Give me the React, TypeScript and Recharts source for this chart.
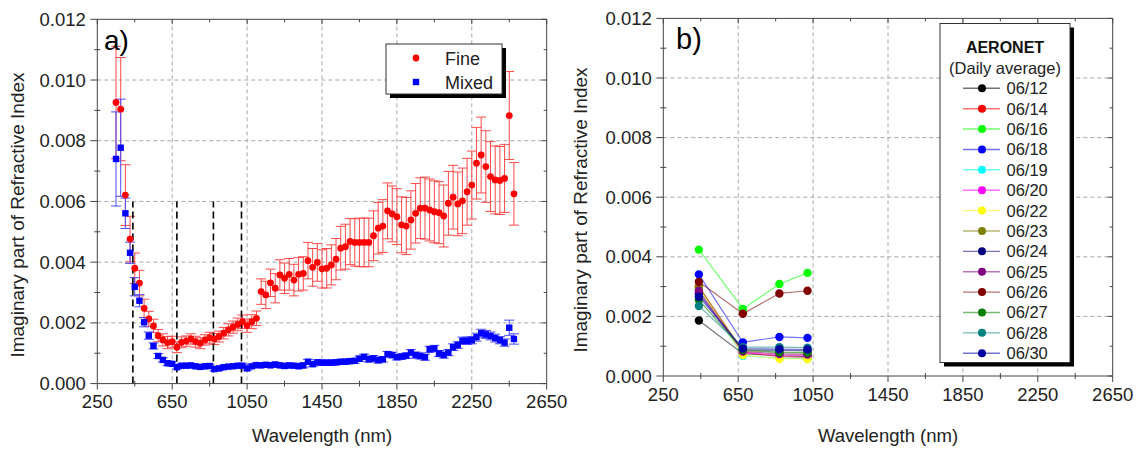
import React from 'react';
import { ScatterChart, Scatter, XAxis, YAxis, CartesianGrid, ErrorBar, ReferenceLine } from 'recharts';

// ---------- data ----------
const wavelengths = [
  350, 375, 400, 425, 450, 475, 500, 525, 550, 575,
  600, 625, 650, 675, 700, 725, 750, 775, 800, 825,
  850, 875, 900, 925, 950, 975, 1000, 1025, 1050, 1075,
  1100, 1125, 1150, 1175, 1200, 1225, 1250, 1275, 1300, 1325,
  1350, 1375, 1400, 1425, 1450, 1475, 1500, 1525, 1550, 1575,
  1600, 1625, 1650, 1675, 1700, 1725, 1750, 1775, 1800, 1825,
  1850, 1875, 1900, 1925, 1950, 1975, 2000, 2025, 2050, 2075,
  2100, 2125, 2150, 2175, 2200, 2225, 2250, 2275, 2300, 2325,
  2350, 2375, 2400, 2425, 2450, 2475,
];

const fineValues = [
  0.00926, 0.00904, 0.00621, 0.00476, 0.00380, 0.00331, 0.00248, 0.00213, 0.00190, 0.00158,
  0.00144, 0.00135, 0.00138, 0.00120, 0.00136, 0.00140, 0.00147, 0.00138, 0.00133, 0.00144,
  0.00151, 0.00147, 0.00155, 0.00166, 0.00177, 0.00186, 0.00195, 0.00204, 0.00191, 0.00204,
  0.00215, 0.00303, 0.00292, 0.00332, 0.00314, 0.00358, 0.00347, 0.00360, 0.00341, 0.00360,
  0.00363, 0.00405, 0.00383, 0.00399, 0.00378, 0.00380, 0.00391, 0.00410, 0.00446, 0.00451,
  0.00468, 0.00465, 0.00465, 0.00465, 0.00465, 0.00487, 0.00512, 0.00519, 0.00569, 0.00559,
  0.00550, 0.00523, 0.00519, 0.00539, 0.00561, 0.00578, 0.00578, 0.00572, 0.00566, 0.00563,
  0.00552, 0.00594, 0.00614, 0.00592, 0.00602, 0.00632, 0.00654, 0.00726, 0.00753, 0.00715,
  0.00682, 0.00671, 0.00669, 0.00676, 0.00883, 0.00625,
];

const fineErrors = [
  0.00185, 0.00170, 0.00100, 0.00075, 0.00050, 0.00042, 0.00030, 0.00025, 0.00022, 0.00020,
  0.00020, 0.00020, 0.00018, 0.00018, 0.00018, 0.00017, 0.00017, 0.00018, 0.00018, 0.00017,
  0.00018, 0.00018, 0.00018, 0.00019, 0.00020, 0.00020, 0.00021, 0.00022, 0.00022, 0.00023,
  0.00024, 0.00042, 0.00045, 0.00045, 0.00048, 0.00050, 0.00050, 0.00052, 0.00052, 0.00055,
  0.00055, 0.00060, 0.00062, 0.00062, 0.00063, 0.00065, 0.00066, 0.00068, 0.00072, 0.00074,
  0.00076, 0.00078, 0.00080, 0.00080, 0.00080, 0.00082, 0.00085, 0.00087, 0.00092, 0.00092,
  0.00092, 0.00092, 0.00094, 0.00096, 0.00098, 0.00100, 0.00102, 0.00102, 0.00102, 0.00102,
  0.00102, 0.00105, 0.00105, 0.00105, 0.00108, 0.00110, 0.00112, 0.00118, 0.00125, 0.00118,
  0.00115, 0.00112, 0.00112, 0.00112, 0.00145, 0.00103,
];

const mixedValues = [
  0.00740, 0.00777, 0.00561, 0.00431, 0.00319, 0.00273, 0.00202, 0.00158, 0.00124, 0.00091,
  0.00078, 0.00067, 0.00065, 0.00054, 0.00059, 0.00059, 0.00060, 0.00057, 0.00055, 0.00057,
  0.00058, 0.00048, 0.00050, 0.00054, 0.00056, 0.00057, 0.00059, 0.00059, 0.00050, 0.00057,
  0.00061, 0.00060, 0.00062, 0.00060, 0.00063, 0.00060, 0.00058, 0.00060, 0.00059, 0.00057,
  0.00060, 0.00072, 0.00064, 0.00070, 0.00069, 0.00069, 0.00069, 0.00070, 0.00072, 0.00072,
  0.00074, 0.00075, 0.00082, 0.00088, 0.00080, 0.00083, 0.00077, 0.00080, 0.00097, 0.00094,
  0.00087, 0.00089, 0.00092, 0.00102, 0.00094, 0.00091, 0.00087, 0.00113, 0.00116, 0.00099,
  0.00094, 0.00102, 0.00120, 0.00127, 0.00141, 0.00141, 0.00143, 0.00153, 0.00166, 0.00162,
  0.00157, 0.00150, 0.00143, 0.00135, 0.00184, 0.00147,
];

const mixedErrors = [
  0.00155, 0.00160, 0.00050, 0.00035, 0.00030, 0.00020, 0.00015, 0.00012, 0.00010, 0.00008,
  0.00007, 0.00007, 0.00007, 0.00006, 0.00006, 0.00006, 0.00006, 0.00006, 0.00006, 0.00006,
  0.00006, 0.00006, 0.00006, 0.00006, 0.00006, 0.00006, 0.00006, 0.00006, 0.00006, 0.00006,
  0.00007, 0.00007, 0.00007, 0.00007, 0.00007, 0.00007, 0.00007, 0.00007, 0.00007, 0.00007,
  0.00008, 0.00008, 0.00008, 0.00008, 0.00008, 0.00008, 0.00008, 0.00008, 0.00008, 0.00008,
  0.00008, 0.00008, 0.00009, 0.00009, 0.00009, 0.00009, 0.00009, 0.00009, 0.00009, 0.00009,
  0.00009, 0.00009, 0.00009, 0.00010, 0.00010, 0.00010, 0.00010, 0.00010, 0.00010, 0.00010,
  0.00010, 0.00010, 0.00011, 0.00011, 0.00012, 0.00012, 0.00012, 0.00013, 0.00013, 0.00013,
  0.00013, 0.00013, 0.00012, 0.00012, 0.00025, 0.00017,
];

const guideWavelengths = [440, 675, 870, 1020];
const guideTop = 0.006;

const aeronetWavelengths = [440, 675, 870, 1020];
const aeronetDates = ['06/12', '06/14', '06/16', '06/18', '06/19', '06/20', '06/22', '06/23', '06/24', '06/25', '06/26', '06/27', '06/28', '06/30'];
const aeronetColors = ['#000000', '#ff0000', '#00ff00', '#0000ff', '#00ffff', '#ff00ff', '#ffff00', '#808000', '#000080', '#800080', '#800000', '#008000', '#008080', '#0000a0'];
const aeronetValues = [
  [0.00186, 0.00075, 0.00068, 0.00065],
  [0.00300, 0.00080, 0.00065, 0.00062],
  [0.00424, 0.00225, 0.00309, 0.00346],
  [0.00341, 0.00113, 0.00131, 0.00128],
  [0.00290, 0.00068, 0.00060, 0.00058],
  [0.00280, 0.00078, 0.00070, 0.00068],
  [0.00295, 0.00070, 0.00058, 0.00057],
  [0.00300, 0.00085, 0.00078, 0.00076],
  [0.00275, 0.00088, 0.00086, 0.00085],
  [0.00286, 0.00082, 0.00074, 0.00072],
  [0.00316, 0.00209, 0.00277, 0.00286],
  [0.00255, 0.00088, 0.00080, 0.00079],
  [0.00235, 0.00097, 0.00097, 0.00095],
  [0.00266, 0.00092, 0.00090, 0.00089],
];

const xTicks = [250, 450, 650, 850, 1050, 1250, 1450, 1650, 1850, 2050, 2250, 2450, 2650];
const xMajorTicks = [250, 650, 1050, 1450, 1850, 2250, 2650];
const xGridValues = [650, 1050, 1450, 1850, 2250];
const yTicks = [0, 0.001, 0.002, 0.003, 0.004, 0.005, 0.006, 0.007, 0.008, 0.009, 0.01, 0.011, 0.012];
const yMajorTicks = [0, 0.002, 0.004, 0.006, 0.008, 0.01, 0.012];
const yGridValues = [0.002, 0.004, 0.006, 0.008, 0.01];

// ---------- styling ----------
const FONT = '"Liberation Sans", Arial, Helvetica, sans-serif';
const AXIS = '#444';
const TEXT = '#222';

const fineData = wavelengths.map((w, i) => ({ x: w, y: fineValues[i], e: fineErrors[i] }));
const mixedData = wavelengths.map((w, i) => ({ x: w, y: mixedValues[i], e: mixedErrors[i] }));

const isMajorX = (v: number) => xMajorTicks.includes(v);
const isMajorY = (v: number) => yMajorTicks.some((m) => Math.abs(m - v) < 1e-9);

const BottomTick = (props: any) => {
  const { x, y, payload } = props;
  const major = isMajorX(payload.value);
  return (
    <g>
      <line x1={x} x2={x} y1={major ? y : y - 3} y2={major ? y + 6 : y + 3} stroke={AXIS} strokeWidth={1} />
      {major && (
        <text x={x} y={y + 24.7} textAnchor="middle" fontSize={18.5} fontFamily={FONT} fill={TEXT}>
          {payload.value}
        </text>
      )}
    </g>
  );
};

const TopTick = (props: any) => {
  const { x, y, payload } = props;
  const major = isMajorX(payload.value);
  return <line x1={x} x2={x} y1={y} y2={y + (major ? 5 : 3)} stroke={AXIS} strokeWidth={1} />;
};

const LeftTick = (props: any) => {
  const { x, y, payload } = props;
  const major = isMajorY(payload.value);
  return (
    <g>
      <line x1={major ? x - 7 : x - 3} x2={major ? x : x + 3} y1={y} y2={y} stroke={AXIS} strokeWidth={1} />
      {major && (
        <text x={x - 11.5} y={y + 6.6} textAnchor="end" fontSize={18.5} fontFamily={FONT} fill={TEXT}>
          {Number(payload.value).toFixed(3)}
        </text>
      )}
    </g>
  );
};

const RightTick = (props: any) => {
  const { x, y, payload } = props;
  const major = isMajorY(payload.value);
  return <line x1={x} x2={x - (major ? 5 : 3)} y1={y} y2={y} stroke={AXIS} strokeWidth={1} />;
};

// axis sizes (space reserved around the plot area)
const BOTTOM_H = 40;
const TOP_H = 4;
const LEFT_W = 60;
const RIGHT_W = 4;

const renderAxes = () => [
  <XAxis key="xb" xAxisId={0} dataKey="x" type="number" domain={[250, 2650]} allowDataOverflow ticks={xTicks} interval={0}
    height={BOTTOM_H} tickSize={0} tickMargin={0} tickLine={false} axisLine={{ stroke: AXIS, strokeWidth: 1 }} tick={<BottomTick />} />,
  <XAxis key="xt" xAxisId="top" orientation="top" dataKey="x" type="number" domain={[250, 2650]} allowDataOverflow ticks={xTicks} interval={0}
    height={TOP_H} tickSize={0} tickMargin={0} tickLine={false} axisLine={{ stroke: AXIS, strokeWidth: 1 }} tick={<TopTick />} />,
  <YAxis key="yl" yAxisId={0} dataKey="y" type="number" domain={[0, 0.012]} allowDataOverflow ticks={yTicks} interval={0}
    width={LEFT_W} tickSize={0} tickMargin={0} tickLine={false} axisLine={{ stroke: AXIS, strokeWidth: 1 }} tick={<LeftTick />} />,
  <YAxis key="yr" yAxisId="right" orientation="right" dataKey="y" type="number" domain={[0, 0.012]} allowDataOverflow ticks={yTicks} interval={0}
    width={RIGHT_W} tickSize={0} tickMargin={0} tickLine={false} axisLine={{ stroke: AXIS, strokeWidth: 1 }} tick={<RightTick />} />,
];

const FineShape = (props: any) => <circle cx={props.cx} cy={props.cy} r={3.4} fill="#ff0000" />;
const MixedShape = (props: any) => <rect x={props.cx - 3.2} y={props.cy - 3.2} width={6.4} height={6.4} fill="#0000ff" />;
const makeDot = (color: string) => (props: any) => <circle cx={props.cx} cy={props.cy} r={4.2} fill={color} />;

// Chart A is drawn wider than its panel so the last tick label is not clipped
const CHART_A_W = 585;

const ChartA = () => (
  <ScatterChart width={CHART_A_W} height={450}
    margin={{ top: 19.3 - TOP_H, right: CHART_A_W - 546.7 - RIGHT_W, bottom: 66.4 - BOTTOM_H, left: 97.3 - LEFT_W }}>
    <CartesianGrid stroke="#a8a8a8" strokeDasharray="4 3" horizontalValues={yGridValues} verticalValues={xGridValues} />
    {renderAxes()}
    <Scatter name="Fine" data={fineData} fill="#ff0000" shape={FineShape} isAnimationActive={false}>
      <ErrorBar dataKey="e" direction="y" width={5} stroke="#ff4a4a" strokeWidth={1} isAnimationActive={false} />
    </Scatter>
    <Scatter name="Mixed" data={mixedData} fill="#0000ff" shape={MixedShape} isAnimationActive={false}>
      <ErrorBar dataKey="e" direction="y" width={5} stroke="#4a4aff" strokeWidth={1} isAnimationActive={false} />
    </Scatter>
    {guideWavelengths.map((w) => (
      <ReferenceLine key={w} segment={[{ x: w, y: 0 }, { x: w, y: guideTop }]} stroke="#000" strokeWidth={1.6}
        strokeDasharray="7 4" ifOverflow="visible" />
    ))}
  </ScatterChart>
);

const ChartB = () => (
  <ScatterChart width={570} height={450}
    margin={{ top: 18.4 - TOP_H, right: 27.3 - RIGHT_W, bottom: 74 - BOTTOM_H, left: 93.3 - LEFT_W }}>
    <CartesianGrid stroke="#a8a8a8" strokeDasharray="4 3" horizontalValues={yGridValues} verticalValues={xGridValues} />
    {renderAxes()}
    {aeronetDates.map((d, i) => (
      <Scatter key={d} name={d} data={aeronetWavelengths.map((w, j) => ({ x: w, y: aeronetValues[i][j] }))}
        fill={aeronetColors[i]} shape={makeDot(aeronetColors[i])}
        line={{ stroke: aeronetColors[i], strokeOpacity: 0.55, strokeWidth: 1.2 }} lineType="joint"
        isAnimationActive={false} />
    ))}
  </ScatterChart>
);

const Overlay = () => (
  <svg width={1140} height={450} style={{ position: 'absolute', left: 0, top: 0, pointerEvents: 'none' }} fontFamily={FONT}>
    {/* panel a texts */}
    <text x={104} y={50} fontSize={28} fill="#000">a)</text>
    <text transform="translate(24,215) rotate(-90)" textAnchor="middle" fontSize={19} fill={TEXT}>Imaginary part of Refractive Index</text>
    <text x={322} y={441.5} textAnchor="middle" fontSize={18.5} fill={TEXT}>Wavelength (nm)</text>
    {/* panel a legend */}
    <rect x={390} y={48} width={116} height={50} fill="#000" />
    <rect x={386} y={44} width={116} height={50} fill="#fff" stroke="#333" strokeWidth={1} />
    <circle cx={416} cy={58} r={3.4} fill="#ff0000" />
    <text x={445} y={64.5} fontSize={18} fill={TEXT}>Fine</text>
    <rect x={412.8} y={78.8} width={6.4} height={6.4} fill="#0000ff" />
    <text x={445} y={88.5} fontSize={18} fill={TEXT}>Mixed</text>

    {/* panel b texts */}
    <text x={676} y={48.5} fontSize={29} fill="#000">b)</text>
    <text transform="translate(587,210) rotate(-90)" textAnchor="middle" fontSize={19} fill={TEXT}>Imaginary part of Refractive Index</text>
    <text x={888} y={441.5} textAnchor="middle" fontSize={18.5} fill={TEXT}>Wavelength (nm)</text>
    {/* panel b legend */}
    <rect x={944} y={27.5} width={130} height={339} fill="#000" />
    <rect x={940} y={23.5} width={130} height={339} fill="#fff" stroke="#333" strokeWidth={1} />
    <text x={1005} y={53} textAnchor="middle" fontSize={16} fontWeight="bold" fill="#111">AERONET</text>
    <text x={1005} y={74} textAnchor="middle" fontSize={16.5} fill={TEXT}>(Daily average)</text>
    {aeronetDates.map((d, i) => {
      const cy = 88.3 + i * 20.38;
      return (
        <g key={d}>
          <line x1={963} x2={1000} y1={cy} y2={cy} stroke={aeronetColors[i]} strokeOpacity={0.55} strokeWidth={1.4} />
          <circle cx={982} cy={cy} r={4} fill={aeronetColors[i]} />
          <text x={1006.5} y={cy + 6} fontSize={16.5} fill={TEXT}>{d}</text>
        </g>
      );
    })}
  </svg>
);

export default function App() {
  return (
    <div style={{ position: 'absolute', left: 0, top: 0, width: 1140, height: 450, background: '#fff', fontFamily: FONT, overflow: 'hidden' }}>
      <div style={{ position: 'absolute', left: 0, top: 0 }}>
        <ChartA />
      </div>
      <div style={{ position: 'absolute', left: 570, top: 0 }}>
        <ChartB />
      </div>
      <Overlay />
    </div>
  );
}
